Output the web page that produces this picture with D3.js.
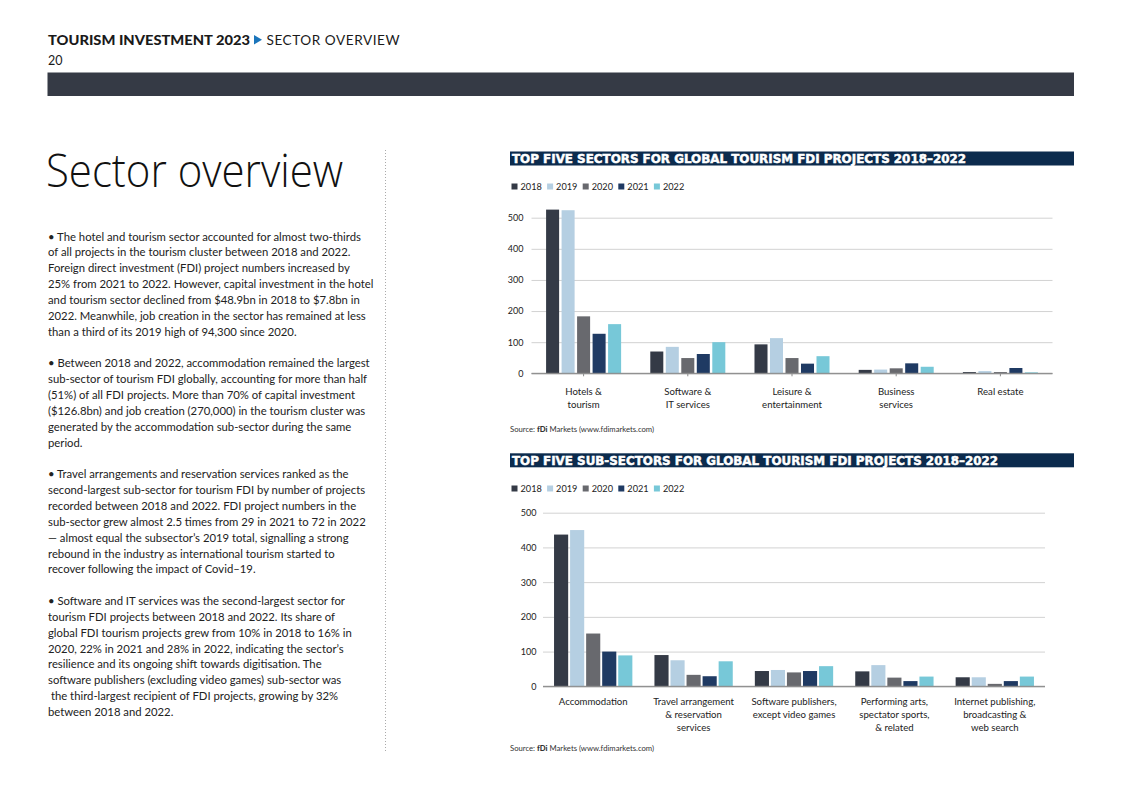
<!DOCTYPE html>
<html><head><meta charset="utf-8">
<script src="https://cdn.jsdelivr.net/npm/d3@7"></script>
<style>
body{margin:0;background:#fff;}
svg{display:block;}
</style></head>
<body>
<svg id="c" width="1122" height="793"></svg>
<script>
// ---------- DATA ----------
const years = ["2018", "2019", "2020", "2021", "2022"];
const yearColors = ["#343a46", "#b5cfe2", "#68696e", "#1f3a63", "#77c8d8"];

const sectorLabels = [["Hotels &", "tourism"], ["Software &", "IT services"], ["Leisure &", "entertainment"], ["Business", "services"], ["Real estate"]];
const sectors2018 = [526, 70, 93, 11, 4];
const sectors2019 = [524, 85, 113, 12, 7];
const sectors2020 = [183, 49, 49, 16, 4];
const sectors2021 = [127, 62, 31, 32, 17];
const sectors2022 = [158, 100, 55, 21, 3];

const subLabels = [["Accommodation"], ["Travel arrangement", "& reservation", "services"], ["Software publishers,", "except video games"], ["Performing arts,", "spectator sports,", "& related"], ["Internet publishing,", "broadcasting &", "web search"]];
const sub2018 = [437, 90, 44, 43, 26];
const sub2019 = [450, 75, 47, 61, 26];
const sub2020 = [152, 33, 40, 25, 7];
const sub2021 = [100, 29, 44, 15, 15];
const sub2022 = [89, 72, 58, 28, 28];

const yTicks = [0, 100, 200, 300, 400, 500];

const bodyParas = [
  ["• The hotel and tourism sector accounted for almost two-thirds",
   "of all projects in the tourism cluster between 2018 and 2022.",
   "Foreign direct investment (FDI) project numbers increased by",
   "25% from 2021 to 2022. However, capital investment in the hotel",
   "and tourism sector declined from $48.9bn in 2018 to $7.8bn in",
   "2022. Meanwhile, job creation in the sector has remained at less",
   "than a third of its 2019 high of 94,300 since 2020."],
  ["• Between 2018 and 2022, accommodation remained the largest",
   "sub-sector of tourism FDI globally, accounting for more than half",
   "(51%) of all FDI projects. More than 70% of capital investment",
   "($126.8bn) and job creation (270,000) in the tourism cluster was",
   "generated by the accommodation sub-sector during the same",
   "period."],
  ["• Travel arrangements and reservation services ranked as the",
   "second-largest sub-sector for tourism FDI by number of projects",
   "recorded between 2018 and 2022. FDI project numbers in the",
   "sub-sector grew almost 2.5 times from 29 in 2021 to 72 in 2022",
   "— almost equal the subsector’s 2019 total, signalling a strong",
   "rebound in the industry as international tourism started to",
   "recover following the impact of Covid–19."],
  ["• Software and IT services was the second-largest sector for",
   "tourism FDI projects between 2018 and 2022. Its share of",
   "global FDI tourism projects grew from 10% in 2018 to 16% in",
   "2020, 22% in 2021 and 28% in 2022, indicating the sector’s",
   "resilience and its ongoing shift towards digitisation. The",
   "software publishers (excluding video games) sub-sector was",
   " the third-largest recipient of FDI projects, growing by 32%",
   "between 2018 and 2022."]
];

// ---------- DRAW ----------
const svg = d3.select("#c");
svg.append("rect").attr("width", 1122).attr("height", 793).attr("fill", "#fff");
const FONT = "Lato, 'Open Sans', sans-serif";

// header
svg.append("text").attr("x", 48).attr("y", 44.5)
  .attr("font-family", FONT).attr("font-size", 13.8).attr("fill", "#1a1a1a")
  .attr("font-weight", 900).attr("textLength", 202).attr("lengthAdjust", "spacingAndGlyphs")
  .text("TOURISM INVESTMENT 2023");
svg.append("path").attr("d", "M254,35 L262,39.7 L254,44.4 Z").attr("fill", "#1b75bb");
svg.append("text").attr("x", 266.5).attr("y", 44.5).attr("font-family", FONT)
  .attr("font-size", 13.6).attr("fill", "#1a1a1a").attr("textLength", 133).text("SECTOR OVERVIEW");
svg.append("text").attr("x", 48).attr("y", 64.5).attr("font-family", FONT)
  .attr("font-size", 12.5).attr("fill", "#1a1a1a").text("20");
svg.append("rect").attr("x", 47.5).attr("y", 72.5).attr("width", 1026.5).attr("height", 23.5).attr("fill", "#353a45");

// big title
svg.append("text").attr("x", 46).attr("y", 187).attr("font-family", "'Open Sans', Lato, sans-serif")
  .attr("font-weight", 300).attr("font-size", 46).attr("fill", "#111")
  .attr("textLength", 297).attr("lengthAdjust", "spacingAndGlyphs").text("Sector overview");

// body text
let by = 240.5;
const lh = 15.85;
bodyParas.forEach(p => {
  p.forEach(line => {
    svg.append("text").attr("x", 48).attr("y", by).attr("font-family", FONT)
      .attr("font-size", 11.3).attr("fill", "#222").attr("xml:space", "preserve")
      .style("white-space", "pre").text(line);
    by += lh;
  });
  by += lh;
});

// separator
svg.append("line").attr("x1", 385.5).attr("x2", 385.5).attr("y1", 150).attr("y2", 752)
  .attr("stroke", "#aaa").attr("stroke-width", 1).attr("stroke-dasharray", "1,2");

function drawChart(cfg) {
  const { title, titleY, titleLen, legendY, labels, series, xRange, yRange, yLabelX, catY, pInner, barPad, ticks, sourceY } = cfg;
  // title bar
  svg.append("rect").attr("x", 510).attr("y", titleY).attr("width", 564).attr("height", 14).attr("fill", "#0c2b4d");
  svg.append("text").attr("x", 512).attr("y", titleY + 11.6).attr("font-family", "'DejaVu Sans', sans-serif")
    .attr("font-weight", "bold").attr("font-size", 12.8).attr("fill", "#fff")
    .attr("stroke", "#fff").attr("stroke-width", 0.5)
    .attr("textLength", titleLen).attr("lengthAdjust", "spacingAndGlyphs").text(title);
  // legend
  const lg = svg.append("g");
  years.forEach((yr, i) => {
    const lx = 511.5 + i * 35.6;
    lg.append("rect").attr("x", lx).attr("y", legendY - 6.5).attr("width", 6).attr("height", 6).attr("fill", yearColors[i]);
    lg.append("text").attr("x", lx + 9).attr("y", legendY).attr("font-family", FONT)
      .attr("font-size", 9.2).attr("fill", "#222").text(yr);
  });

  const x0 = d3.scaleBand().domain(d3.range(labels.length)).range(xRange).paddingInner(pInner).paddingOuter(pInner / 2);
  const x1 = d3.scaleBand().domain(years).range([0, x0.bandwidth()]).paddingInner(barPad);
  const y = d3.scaleLinear().domain([0, 500]).range(yRange);

  // grid
  const ga = d3.axisLeft(y).tickValues(yTicks).tickSize(-(xRange[1] - xRange[0])).tickFormat(d3.format("d"));
  const g = svg.append("g").attr("transform", `translate(${xRange[0]},0)`).call(ga);
  g.select(".domain").remove();
  g.selectAll(".tick line").attr("stroke", d => d === 0 ? "#8a8a8a" : "#d2d2d2").attr("stroke-width", 1);
  g.selectAll(".tick text").attr("x", yLabelX - xRange[0]).attr("font-family", FONT)
    .attr("font-size", 9).attr("fill", "#222");

  // bars
  years.forEach((yr, i) => {
    svg.append("g").selectAll("rect").data(series[i]).join("rect")
      .attr("x", (d, j) => x0(j) + x1(yr))
      .attr("y", d => y(d))
      .attr("width", x1.bandwidth())
      .attr("height", d => y(0) - y(d))
      .attr("fill", yearColors[i]);
  });
  // zero line on top
  svg.append("line").attr("x1", xRange[0]).attr("x2", xRange[1]).attr("y1", y(0)).attr("y2", y(0))
    .attr("stroke", "#8a8a8a").attr("stroke-width", 1);

  // category ticks & labels
  labels.forEach((lab, j) => {
    const cx = x0(j) + x0.bandwidth() / 2;
    if (ticks) svg.append("line").attr("x1", cx).attr("x2", cx).attr("y1", y(0)).attr("y2", y(0) + 3).attr("stroke", "#8a8a8a");
    lab.forEach((l, k) => {
      svg.append("text").attr("x", cx).attr("y", catY + k * 13).attr("text-anchor", "middle")
        .attr("font-family", FONT).attr("font-size", 9.6).attr("fill", "#222").text(l);
    });
  });

  // source
  const s = svg.append("text").attr("x", 510).attr("y", sourceY).attr("font-family", FONT)
    .attr("font-size", 7.7).attr("fill", "#333");
  s.append("tspan").text("Source: ");
  s.append("tspan").attr("font-weight", 900).text("fDi");
  s.append("tspan").text(" Markets (www.fdimarkets.com)");
}

drawChart({
  title: "TOP FIVE SECTORS FOR GLOBAL TOURISM FDI PROJECTS 2018–2022",
  titleY: 151.5, titleLen: 454, legendY: 190,
  labels: sectorLabels,
  series: [sectors2018, sectors2019, sectors2020, sectors2021, sectors2022],
  xRange: [531.5, 1052.5], yRange: [373.3, 217.7], yLabelX: 523.5, catY: 395, pInner: 0.28, barPad: 0.16, ticks: true,
  sourceY: 431.5
});

drawChart({
  title: "TOP FIVE SUB-SECTORS FOR GLOBAL TOURISM FDI PROJECTS 2018–2022",
  titleY: 453.3, titleLen: 486, legendY: 492,
  labels: subLabels,
  series: [sub2018, sub2019, sub2020, sub2021, sub2022],
  xRange: [543, 1045], yRange: [686.3, 512.7], yLabelX: 536.5, catY: 705, pInner: 0.22, barPad: 0.12, ticks: false,
  sourceY: 750.5
});
</script>
</body></html>
